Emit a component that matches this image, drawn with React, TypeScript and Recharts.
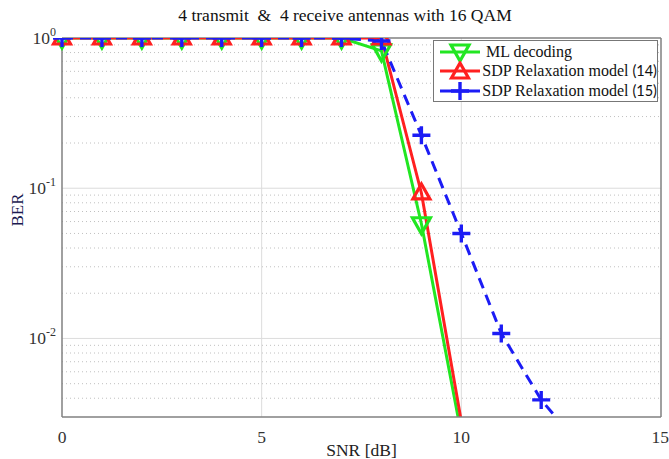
import { LineChart, Line, XAxis, YAxis, ReferenceLine, Legend } from 'recharts'

const snr = [0, 1, 2, 3, 4, 5, 6, 7, 8, 9, 10, 11, 12, 13]
const mlDecoding = [1, 1, 1, 1, 1, 1, 1, 1, 0.82, 0.058, 0.0023]
const sdp14 = [1, 1, 1, 1, 1, 1, 1, 1, 1, 0.093, 0.0028]
const sdp15 = [1, 1, 1, 1, 1, 1, 1, 1, 0.955, 0.225, 0.05, 0.0108, 0.0039, 0.0019]

const xTicks = [0, 5, 10, 15]
const yTicks = [0.01, 0.1, 1]
const yExponents = ['-2', '-1', '0']
const minorTicks = [
  0.004, 0.005, 0.006, 0.007, 0.008, 0.009,
  0.02, 0.03, 0.04, 0.05, 0.06, 0.07, 0.08, 0.09,
  0.2, 0.3, 0.4, 0.5, 0.6, 0.7, 0.8, 0.9,
]

const GREEN = '#22e622'
const RED = '#ff2020'
const BLUE = '#1c1cf5'
const SERIF = '"Liberation Serif", "Times New Roman", serif'

const data = snr.map((s, i) => ({
  snr: s,
  ml: mlDecoding[i],
  sdp14: sdp14[i],
  sdp15: sdp15[i],
}))

const BOTTOM = 0.003

function DownTri({ cx, cy, color }: any) {
  return (
    <polygon
      points={`${cx - 9},${cy - 6} ${cx + 9},${cy - 6} ${cx},${cy + 10}`}
      fill="none"
      stroke={color}
      strokeWidth={3.2}
    />
  )
}

function UpTri({ cx, cy, color }: any) {
  return (
    <polygon
      points={`${cx - 8.5},${cy + 6} ${cx + 8.5},${cy + 6} ${cx},${cy - 9}`}
      fill="none"
      stroke={color}
      strokeWidth={3.2}
    />
  )
}

function Plus({ cx, cy, color }: any) {
  return (
    <path
      d={`M${cx - 9},${cy} H${cx + 9} M${cx},${cy - 9} V${cy + 9}`}
      stroke={color}
      strokeWidth={3.4}
      fill="none"
    />
  )
}

function YTick({ x, y, payload }: any) {
  const idx = yTicks.indexOf(payload.value)
  return (
    <text x={x + 2} y={y + 6} textAnchor="end" fontFamily={SERIF} fontSize={17.5} fill="#333">
      10
      <tspan dy={-8} fontSize={12}>{yExponents[idx]}</tspan>
    </text>
  )
}

const legendItems = [
  { label: 'ML decoding', num: '', color: GREEN, marker: 'down' },
  { label: 'SDP Relaxation model ', num: '(14)', color: RED, marker: 'up' },
  { label: 'SDP Relaxation model ', num: '(15)', color: BLUE, marker: 'plus' },
]

function LegendBox() {
  return (
    <div
      style={{
        width: 223,
        height: 59,
        border: '1px solid #777',
        background: '#fff',
        boxSizing: 'content-box',
        paddingTop: 1,
      }}
    >
      {legendItems.map((it) => (
        <div key={it.color} style={{ display: 'flex', alignItems: 'center', height: 19.5 }}>
          <svg width={48} height={20} style={{ marginLeft: 4 }}>
            <line x1={2} y1={10} x2={42} y2={10} stroke={it.color} strokeWidth={3} />
            {it.marker === 'down' && <DownTri cx={22} cy={9} color={it.color} />}
            {it.marker === 'up' && <UpTri cx={22} cy={11} color={it.color} />}
            {it.marker === 'plus' && <Plus cx={22} cy={10} color={it.color} />}
          </svg>
          <span style={{ fontFamily: SERIF, fontSize: 16, color: '#111', whiteSpace: 'nowrap' }}>
            {it.label}
            {it.num && (
              <span style={{ fontFamily: 'Lato, "Open Sans", sans-serif', fontSize: 14.5 }}>{it.num}</span>
            )}
          </span>
        </div>
      ))}
    </div>
  )
}

function dotFor(Shape: any, color: string, id: string) {
  return (p: any) => {
    if (p.value == null || p.value < BOTTOM) return <g key={`${id}-${p.index}`} />
    return <Shape key={`${id}-${p.index}`} cx={p.cx} cy={p.cy} color={color} />
  }
}

export default function App() {
  return (
    <div style={{ position: 'absolute', left: 0, top: 0, width: 669, height: 459, background: '#fff' }}>
      <div
        style={{
          position: 'absolute',
          left: 0,
          top: 5,
          width: 690,
          textAlign: 'center',
          fontFamily: SERIF,
          fontSize: 17.5,
          color: '#111',
          whiteSpace: 'pre',
        }}
      >
        {'4 transmit  &  4 receive antennas with 16 QAM'}
      </div>
      <LineChart width={669} height={459} data={data} margin={{ top: 38, right: 8, left: 0, bottom: 0 }}>
        <XAxis
          dataKey="snr"
          type="number"
          domain={[0, 15]}
          ticks={xTicks}
          height={42}
          tickLine={false}
          axisLine={{ stroke: '#808080', strokeWidth: 1.5 }}
          tick={{ fontFamily: SERIF, fontSize: 17.5, fill: '#333', dy: 6 }}
          label={{ value: 'SNR [dB]', position: 'insideBottom', offset: 3, fontFamily: SERIF, fontSize: 17.5, fill: '#222' }}
        />
        <YAxis
          scale="log"
          type="number"
          domain={[BOTTOM, 1]}
          allowDataOverflow
          ticks={yTicks}
          width={62}
          tickLine={false}
          axisLine={{ stroke: '#808080', strokeWidth: 1.5 }}
          tick={<YTick />}
          label={{
            content: () => (
              <text x={23} y={210} transform="rotate(-90 23 210)" textAnchor="middle" fontFamily={SERIF} fontSize={17} fill="#1a1a50">
                BER
              </text>
            ),
          }}
        />
        {minorTicks.map((v) => (
          <ReferenceLine key={v} y={v} stroke="#c0c0c0" strokeDasharray="1 3" strokeWidth={1} />
        ))}
        <ReferenceLine y={0.1} stroke="#dcdcdc" />
        <ReferenceLine y={0.01} stroke="#dcdcdc" />
        <ReferenceLine x={5} stroke="#dcdcdc" />
        <ReferenceLine x={10} stroke="#dcdcdc" />
        <ReferenceLine y={1} stroke="#808080" strokeWidth={1.5} />
        <ReferenceLine x={15} stroke="#808080" strokeWidth={1.5} />
        <Legend
          layout="vertical"
          align="center"
          verticalAlign="middle"
          wrapperStyle={{ left: 433, top: 40, width: 226 }}
          content={() => <LegendBox />}
        />
        <Line
          dataKey="ml"
          stroke={GREEN}
          strokeWidth={3}
          dot={dotFor(DownTri, GREEN, 'ml')}
          isAnimationActive={false}
        />
        <Line
          dataKey="sdp14"
          stroke={RED}
          strokeWidth={3}
          dot={dotFor(UpTri, RED, 'sdp14')}
          isAnimationActive={false}
        />
        <Line
          dataKey="sdp15"
          stroke={BLUE}
          strokeWidth={3}
          strokeDasharray="11 7"
          dot={dotFor(Plus, BLUE, 'sdp15')}
          isAnimationActive={false}
        />
      </LineChart>
    </div>
  )
}
